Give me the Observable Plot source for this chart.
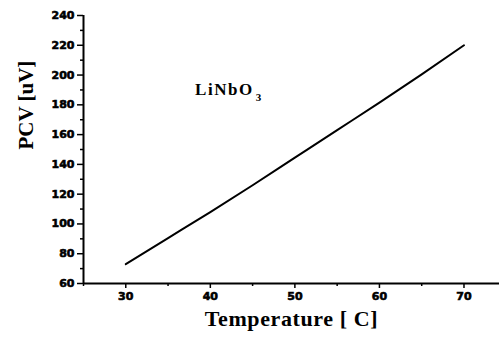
<!DOCTYPE html>
<html>
<head>
<meta charset="utf-8">
<script src="https://cdn.jsdelivr.net/npm/d3@7"></script>
<script src="https://cdn.jsdelivr.net/npm/@observablehq/plot@0.6"></script>
<style>
  html, body { margin: 0; padding: 0; background: #fff; }
  #chart svg { display: block; }
  #chart g[aria-label$="tick label"] text { font-weight: bold; font-family: "DejaVu Sans", sans-serif; font-size: 11px; stroke: #000; stroke-width: 0.6px; }
</style>
</head>
<body>
<div id="chart"></div>
<script>
// Data
const temperature = [30, 35, 40, 45, 50, 55, 60, 65, 70];
const pcv = [73, 90.5, 108, 126, 144.5, 163, 181.5, 200.5, 220];

const xMajorTicks = [30, 40, 50, 60, 70];
const xMinorTicks = [25, 35, 45, 55, 65];
const yMajorTicks = [60, 80, 100, 120, 140, 160, 180, 200, 220, 240];
const yMinorTicks = [70, 90, 110, 130, 150, 170, 190, 210, 230];

const xTitle = "Temperature [ C]";
const yTitle = "PCV [uV]";
const annotation = [{label: "LiNbO", sub: "3", x: 38.2, y: 190}];

const data = temperature.map((t, i) => ({t, v: pcv[i]}));

const tickFont = "'DejaVu Sans', sans-serif";
const titleFont = "'Liberation Serif', 'Times New Roman', serif";

const chart = Plot.plot({
  width: 499,
  height: 338,
  marginLeft: 83,
  marginRight: 0,
  marginTop: 15,
  marginBottom: 55,
  style: {background: "#fff", color: "#000"},
  x: {domain: [25, 74.2], axis: null},
  y: {domain: [60, 240], axis: null},
  marks: [
    Plot.axisX({ticks: xMajorTicks, tickSize: 5, tickPadding: 4, strokeWidth: 1.5,
      fontFamily: tickFont, fontWeight: "bold", fontSize: 11, label: null}),
    Plot.axisX({ticks: xMinorTicks, tickSize: 3, strokeWidth: 1.5, text: null, label: null}),
    Plot.axisY({ticks: yMajorTicks, tickSize: 6, tickPadding: 3, strokeWidth: 1.5,
      fontFamily: tickFont, fontWeight: "bold", fontSize: 11, label: null}),
    Plot.axisY({ticks: yMinorTicks, tickSize: 3, strokeWidth: 1.5, text: null, label: null}),
    Plot.ruleX([25], {stroke: "#000", strokeWidth: 2}),
    Plot.ruleY([60], {stroke: "#000", strokeWidth: 2}),
    Plot.line(data, {x: "t", y: "v", stroke: "#000", strokeWidth: 2, curve: "monotone-x"}),
    Plot.text(annotation, {x: "x", y: "y", text: "label", textAnchor: "start",
      fontFamily: titleFont, fontWeight: "bold", fontSize: 17, fill: "#000"}),
    Plot.text([xTitle], {frameAnchor: "bottom", dy: 42, text: d => d,
      fontFamily: titleFont, fontWeight: "bold", fontSize: 22, fill: "#000"}),
    Plot.text([yTitle], {frameAnchor: "left", dx: -57, rotate: -90, text: d => d,
      fontFamily: titleFont, fontWeight: "bold", fontSize: 21, fill: "#000"})
  ]
});

const svg = d3.select(chart);
svg.selectAll("text").filter(function() { return this.textContent === "Temperature [ C]"; })
  .attr("letter-spacing", "0.6px");
// subscript for annotation, kept as real text inside the same text element
svg.selectAll("text").filter(function() { return this.textContent === "LiNbO"; })
  .attr("letter-spacing", "1.5px")
  .each(function() {
    d3.select(this).append("tspan").attr("dy", "0.5em").attr("dx", "2").attr("font-size", 11).text(annotation[0].sub);
  });

document.getElementById("chart").appendChild(chart);
</script>
</body>
</html>
